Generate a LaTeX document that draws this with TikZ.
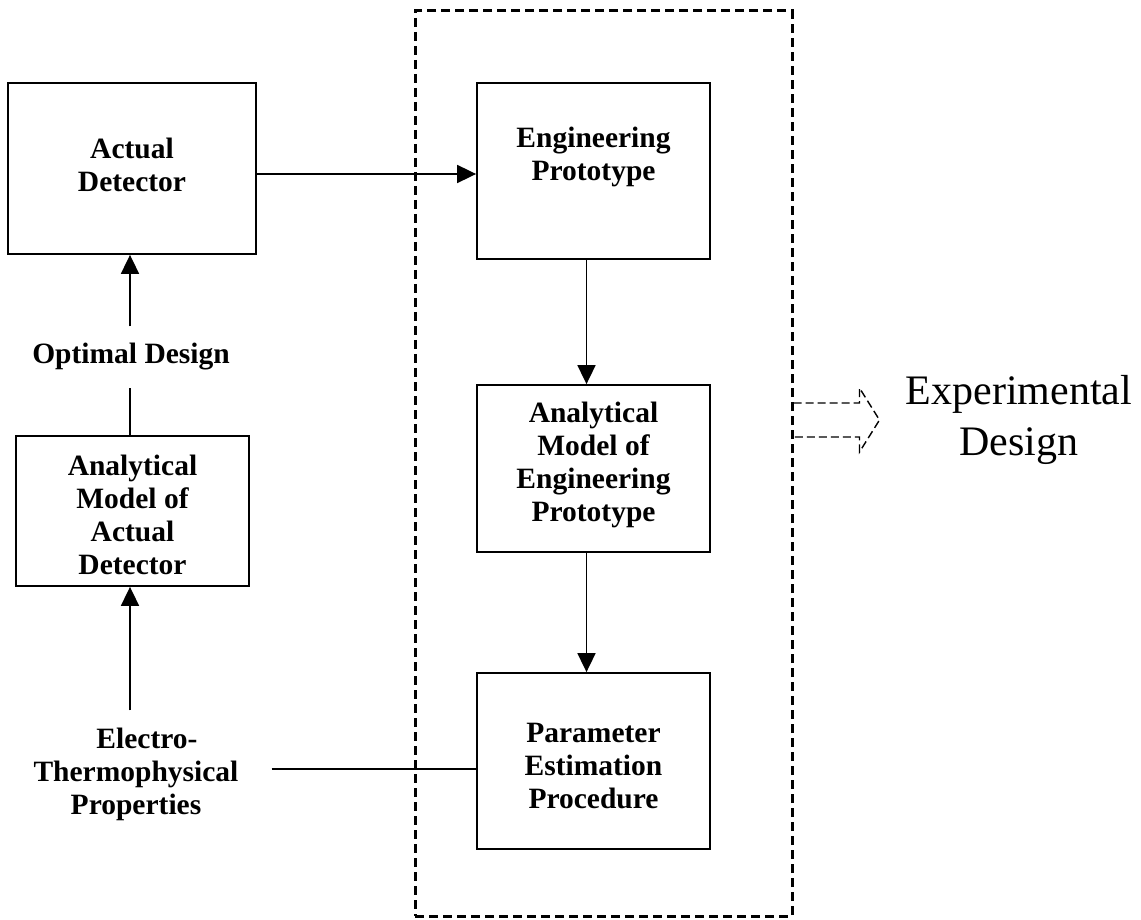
\documentclass[tikz,border=0pt]{standalone}
\usepackage{fontspec}
\setmainfont{Liberation Serif}
\usetikzlibrary{arrows.meta}
\begin{document}
\begin{tikzpicture}[x=1pt,y=-1pt,
  box/.style={draw,line width=1.8pt,inner sep=0pt},
  lbl/.style={font=\fontsize{29.5}{33}\selectfont\bfseries,align=center,inner sep=0pt},
  tag/.style={font=\fontsize{29.5}{33}\selectfont\bfseries,align=center,inner xsep=0pt,inner ysep=17pt},
  arr/.style={line width=1.8pt,-{Triangle[length=19pt,width=18pt]}},
  conn/.style={line width=1.8pt},
  group/.style={draw,line width=3pt,dash pattern=on 9pt off 5pt,inner sep=0pt},
  blockarrow/.style={line width=1.4pt,dash pattern=on 8pt off 4pt,line join=miter}]
\useasboundingbox (0,0) rectangle (1141,920);

% dashed frame around the experimental stage
\node[group,minimum width=377pt,minimum height=905pt] (grp) at (603.5,463.5) {};

% left column
\node[box,minimum width=248pt,minimum height=171pt,
      label={[lbl,yshift=4pt]center:Actual\\Detector}] (ad) at (132,168.5) {};
\node[tag] (opt) at (131,357) {Optimal Design};
\node[box,minimum width=233pt,minimum height=150pt,
      label={[lbl,yshift=-4pt]center:Analytical\\Model of\\Actual\\Detector}] (amad) at (132.5,511) {};
\node[tag] (etp) at (136,774) {\hspace*{22pt}Electro-\\Thermophysical\\Properties};

% right column
\node[box,minimum width=233pt,minimum height=176pt,
      label={[lbl,yshift=14pt]center:Engineering\\Prototype}] (ep) at (593.5,171) {};
\node[box,minimum width=233pt,minimum height=167pt,
      label={[lbl,yshift=4pt]center:Analytical\\Model of\\Engineering\\Prototype}] (amep) at (593.5,468.5) {};
\node[box,minimum width=233pt,minimum height=176pt,
      label={[lbl,yshift=-5pt]center:Parameter\\Estimation\\Procedure}] (pep) at (593.5,761) {};

% output label
\node[font=\fontsize{42}{51}\selectfont,align=center,inner sep=0pt] (exd) at (1019,420) {Experimental\\Design};

% connectors
\draw[arr] (ad.east |- 0,174) -- (ep.west |- 0,174);
\draw[arr] ([xshift=-7pt]ep.south) -- ([xshift=-7pt]amep.north);
\draw[arr] ([xshift=-7pt]amep.south) -- ([xshift=-7pt]pep.north);
\draw[arr] (opt.north -| 130,0) -- (ad.south -| 130,0);
\draw[conn] (amad.north -| 130,0) -- (opt.south -| 130,0);
\draw[arr] (etp.north -| 130,0) -- (amad.south -| 130,0);
\draw[conn] ([xshift=33pt]etp.east |- 0,769) -- (pep.west |- 0,769);

% hollow dashed arrow leaving the frame
\coordinate (ba) at (grp.east |- 0,420);
\draw[blockarrow] (ba) ++(0,-17) -- ++(66,0) -- ++(0,-15) -- ++(20,32) -- ++(-20,32) -- ++(0,-15) -- ++(-66,0);
\end{tikzpicture}
\end{document}
